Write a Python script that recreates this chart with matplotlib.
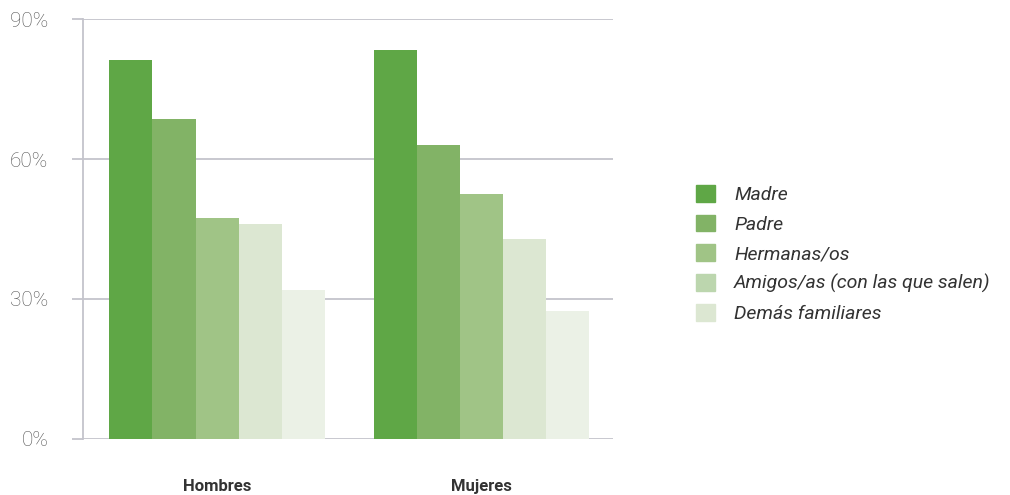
import matplotlib.pyplot as plt
import matplotlib.patches as mpatches
import numpy as np

plt.rcParams['font.family'] = ['Roboto', 'DejaVu Sans']

# datos
grupos = ["Hombres", "Mujeres"]
series = ["Madre", "Padre", "Hermanas/os", "Amigos/as (con las que salen)", "Demás familiares"]
madre = [81.3, 83.4]
padre = [68.6, 63.0]
hermanas = [47.3, 52.5]
amigos = [46.0, 42.9]
demas = [31.9, 27.4]
valores = [madre, padre, hermanas, amigos, demas]

colores_barras = ["#5fa746", "#82b366", "#a0c486", "#dce7d2", "#ebf1e6"]
colores_leyenda = ["#5fa746", "#82b366", "#a0c486", "#bcd6ae", "#dce7d2"]

fig = plt.figure(figsize=(10.1, 4.95), dpi=100)
ax = fig.add_axes([0.0822, 0.1141, 0.5248, 0.8469])

x = np.arange(len(grupos))
ancho = 0.163
for i, vals in enumerate(valores):
    ax.bar(x + (i - 2) * ancho, vals, width=ancho, color=colores_barras[i],
           edgecolor="none", zorder=3)

ax.set_xlim(-0.507, 1.497)
ax.set_ylim(0, 90)
ax.set_yticks([0, 30, 60, 90])
ax.set_yticklabels(["0%", "30%", "60%", "90%"], fontweight="light")
ax.yaxis.grid(True, color="#c4c4cc", linewidth=1.3, zorder=0)
ax.tick_params(axis="y", length=8, width=1.3, color="#c4c4cc", pad=17,
               labelsize=15, labelcolor="#555555")
ax.set_xticks(x)
ax.set_xticklabels(grupos, fontsize=12, fontweight="bold", color="#333333")
ax.tick_params(axis="x", length=0, pad=29)

for s in ["top", "right", "bottom"]:
    ax.spines[s].set_visible(False)
ax.spines["left"].set_color("#c4c4cc")
ax.spines["left"].set_linewidth(1.3)

handles = [mpatches.Patch(color=c, label=l) for c, l in zip(colores_leyenda, series)]
leg = fig.legend(handles=handles, loc="center left", bbox_to_anchor=(0.672, 0.487),
                 frameon=False, handlelength=0.95, handleheight=0.95, handletextpad=1.0,
                 labelspacing=0.55, prop={"size": 14, "style": "italic"})
for t in leg.get_texts():
    t.set_color("#333333")

plt.savefig("out.png", dpi=100)
